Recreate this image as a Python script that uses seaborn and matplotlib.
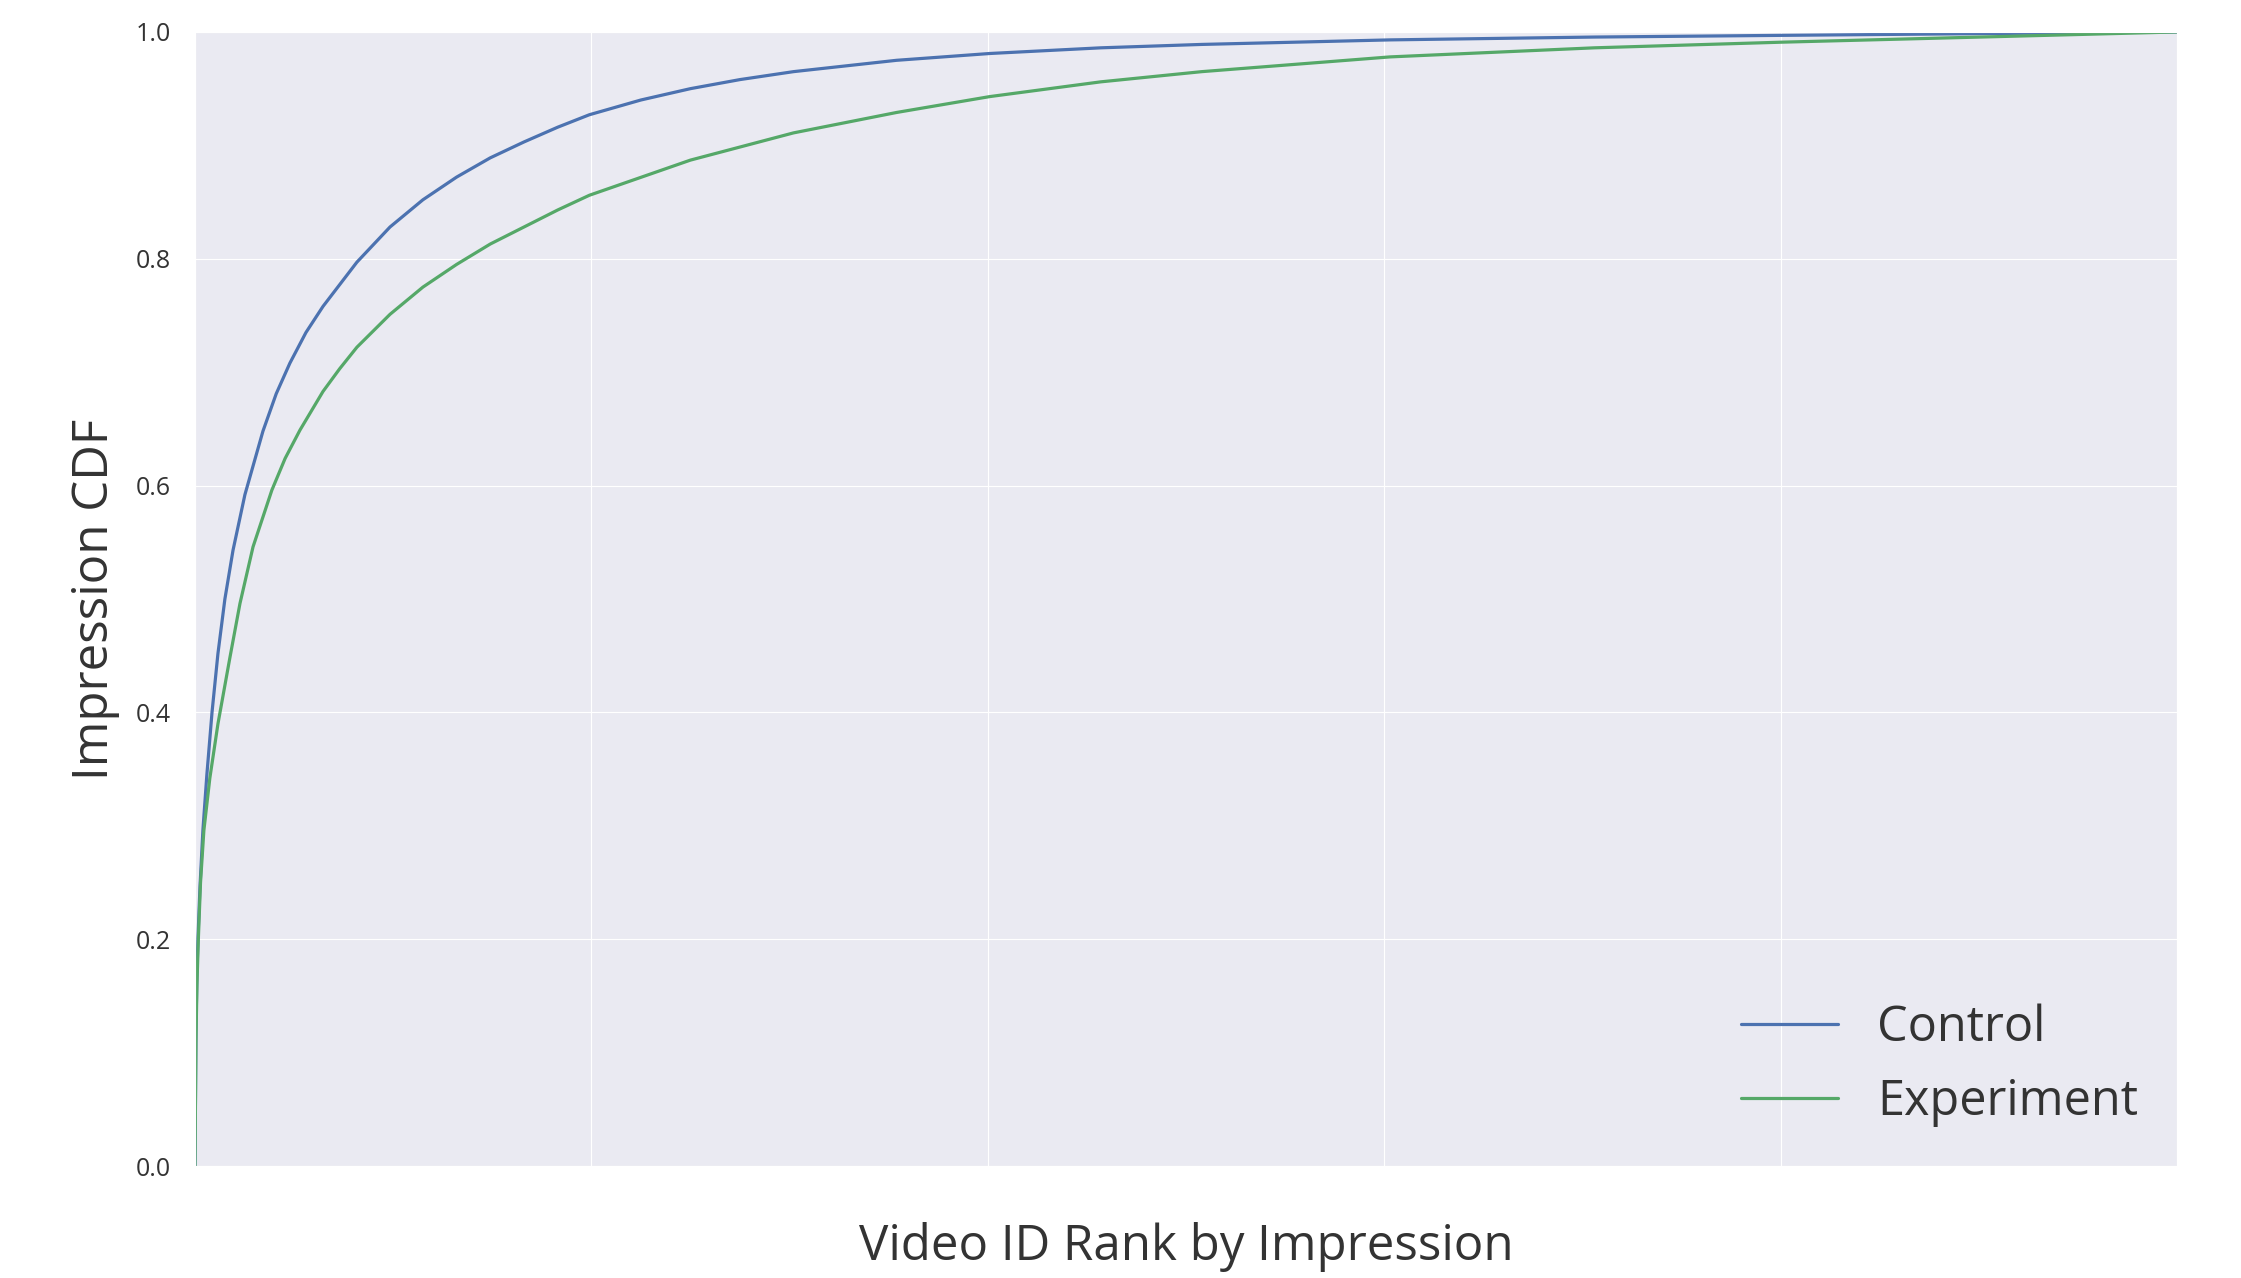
import pandas as pd
import seaborn as sns
import matplotlib.pyplot as plt

# Impression CDF (video rank out of 10000)
ctrl_rank = [0, 5, 10, 15, 25, 40, 60, 86, 116, 151, 192, 252, 343, 410, 479,
             560, 646, 817, 984, 1150, 1320, 1490, 1660, 1830, 1990, 2250,
             2500, 2750, 3020, 3280, 3540, 4010, 4570, 5080, 6030, 7060, 8010,
             9000, 10000]
ctrl_cdf = [0.0, 0.12, 0.17, 0.2, 0.245, 0.296, 0.345, 0.40, 0.452, 0.50,
            0.543, 0.592, 0.648, 0.681, 0.708, 0.735, 0.758, 0.797, 0.828,
            0.852, 0.872, 0.889, 0.903, 0.916, 0.927, 0.940, 0.950, 0.958,
            0.965, 0.970, 0.975, 0.981, 0.986, 0.989, 0.993, 0.9955, 0.997,
            0.9985, 1.0]

exp_rank = [0, 5, 10, 17, 28, 45, 75, 116, 177, 227, 293, 388, 455, 530, 646,
            730, 817, 984, 1150, 1320, 1490, 1660, 1830, 1990, 2500, 3020,
            3540, 4010, 4570, 5080, 6030, 7060, 8010, 9120, 10000]
exp_cdf = [0.0, 0.11, 0.16, 0.2, 0.25, 0.296, 0.342, 0.39, 0.449, 0.496,
           0.546, 0.596, 0.624, 0.649, 0.683, 0.703, 0.722, 0.751, 0.775,
           0.795, 0.813, 0.828, 0.843, 0.856, 0.887, 0.911, 0.929, 0.943,
           0.956, 0.965, 0.978, 0.986, 0.991, 0.996, 1.0]

groups = ['Control', 'Experiment']
colors = ['#4C72B0', '#55A868']
y_ticks = [0.0, 0.2, 0.4, 0.6, 0.8, 1.0]

df = pd.concat([
    pd.DataFrame({'rank': ctrl_rank, 'cdf': ctrl_cdf, 'group': groups[0]}),
    pd.DataFrame({'rank': exp_rank, 'cdf': exp_cdf, 'group': groups[1]}),
])

sns.set_style("darkgrid")
plt.rcParams['font.family'] = ['Open Sans', 'DejaVu Sans']
text_color = '#333333'

fig, ax = plt.subplots(figsize=(22.41, 12.78), dpi=100)
fig.subplots_adjust(left=0.087, right=0.9714, bottom=0.0876, top=0.975)

sns.lineplot(data=df, x='rank', y='cdf', hue='group', palette=colors,
             linewidth=2.3, ax=ax)

ax.set_xlim(0, 10000)
ax.set_ylim(0, 1)
ax.set_xticks(range(0, 10001, 2000))
ax.set_xticklabels([])
ax.set_yticks(y_ticks)
ax.set_yticklabels([f'{t:.1f}' for t in y_ticks], fontsize=18, color=text_color)
ax.tick_params(axis='y', pad=14)

ax.set_xlabel('Video ID Rank by Impression', fontsize=35.5, color=text_color, labelpad=33)
ax.set_ylabel('Impression CDF', fontsize=35.5, color=text_color, labelpad=11)

leg = ax.legend(loc='lower right', frameon=False, fontsize=35, title=None,
                handlelength=2.0, borderaxespad=0.4)
for t in leg.get_texts():
    t.set_color(text_color)

fig.savefig('out.png', dpi=100)
